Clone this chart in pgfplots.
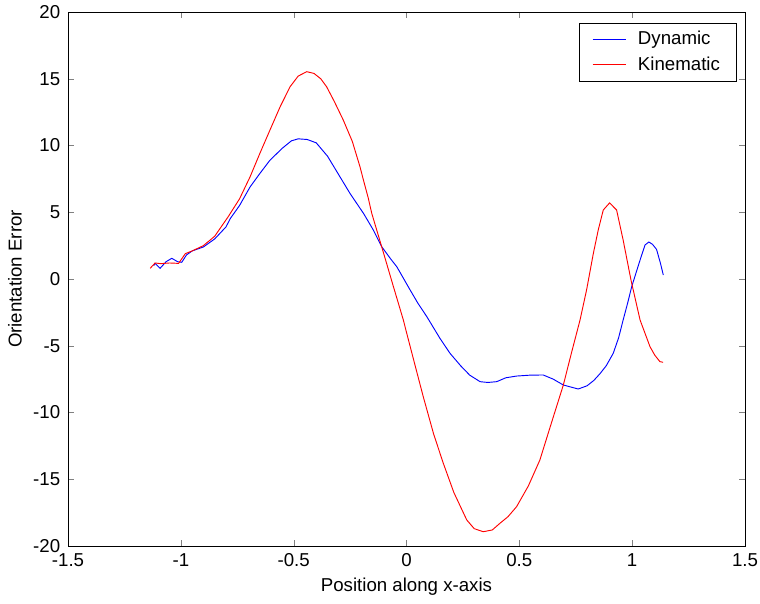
\documentclass[border=0pt]{standalone}
\usepackage{pgfplots}
\pgfplotsset{compat=1.18}
\usepackage{fontspec}
\setmainfont{Liberation Sans}
\begin{document}
\fontsize{14bp}{16bp}\selectfont
\begin{tikzpicture}
\begin{axis}[
  at={(0,0)}, anchor=south west,
  scale only axis,
  width=507.75bp, height=400.5bp,
  xmin=-1.5, xmax=1.5, ymin=-20, ymax=20,
  xtick={-1.5,-1,...,1.5},
  ytick={-20,-15,...,20},
  tick align=inside,
  tick pos=both,
  major tick length=4.5bp,
  /pgf/number format/assume math mode=true,
  ticklabel style={font=\fontsize{14bp}{16bp}\selectfont},
  label style={font=\fontsize{14bp}{16bp}\selectfont},
  xticklabel style={yshift=-1bp},
  yticklabel style={xshift=-1bp},
  xlabel={Position along x-axis},
  ylabel={Orientation Error},
  xlabel style={yshift=1bp},
  ylabel style={yshift=-1bp},
  axis line style={black},
  legend style={at={(0.987,0.98)}, anchor=north east, draw=black, font=\fontsize{14bp}{16bp}\selectfont, row sep=3bp, inner xsep=10bp, inner ysep=4bp,
    /tikz/every odd column/.append style={column sep=7bp}},
  legend cell align=left,
  legend image post style={xscale=1.45},
]
\addplot[blue, line width=0.7pt] coordinates {
(-1.12,1.0) (-1.114,1.17) (-1.092,0.8) (-1.065,1.3) (-1.04,1.55) (-1.015,1.3) (-0.996,1.25) (-0.975,1.8) (-0.95,2.1) (-0.90,2.4) (-0.85,3.0) (-0.80,3.9) (-0.78,4.55) (-0.74,5.5) (-0.693,6.9) (-0.65,7.9) (-0.605,8.9) (-0.55,9.8) (-0.51,10.35) (-0.48,10.5) (-0.44,10.45) (-0.40,10.2) (-0.35,9.2) (-0.295,7.66) (-0.25,6.4) (-0.19,4.9) (-0.147,3.67) (-0.11,2.42) (-0.07,1.5) (-0.043,0.92) (0.016,-0.82) (0.05,-1.8) (0.09,-2.82) (0.148,-4.44) (0.193,-5.57) (0.24,-6.5) (0.28,-7.2) (0.326,-7.69) (0.36,-7.75) (0.40,-7.69) (0.44,-7.4) (0.488,-7.27) (0.55,-7.2) (0.606,-7.19) (0.65,-7.5) (0.695,-7.94) (0.73,-8.1) (0.761,-8.24) (0.80,-8.0) (0.83,-7.6) (0.857,-7.1) (0.885,-6.5) (0.916,-5.57) (0.94,-4.4) (0.96,-3.07) (0.98,-1.8) (0.998,-0.57) (1.035,1.42) (1.057,2.55) (1.074,2.77) (1.09,2.6) (1.108,2.22) (1.125,1.2) (1.138,0.3)
};
\addlegendentry{Dynamic}
\addplot[red, line width=0.7pt] coordinates {
(-1.136,0.8) (-1.114,1.2) (-1.09,1.15) (-1.05,1.2) (-1.01,1.17) (-0.98,1.9) (-0.95,2.1) (-0.90,2.5) (-0.85,3.2) (-0.79,4.67) (-0.74,6.0) (-0.693,7.66) (-0.65,9.4) (-0.605,11.16) (-0.56,12.9) (-0.516,14.4) (-0.48,15.2) (-0.442,15.53) (-0.41,15.4) (-0.38,15.0) (-0.354,14.4) (-0.32,13.3) (-0.28,11.9) (-0.24,10.3) (-0.206,8.4) (-0.191,7.42) (-0.17,6.1) (-0.154,4.92) (-0.11,2.42) (-0.058,-0.57) (-0.014,-3.07) (0.0,-4.0) (0.04,-6.6) (0.074,-8.8) (0.12,-11.6) (0.163,-13.8) (0.21,-16.0) (0.267,-18.05) (0.30,-18.7) (0.34,-18.93) (0.38,-18.8) (0.414,-18.3) (0.45,-17.8) (0.488,-17.05) (0.54,-15.5) (0.591,-13.56) (0.64,-10.9) (0.695,-7.94) (0.73,-5.6) (0.769,-3.07) (0.798,-0.82) (0.828,1.92) (0.85,3.7) (0.872,5.17) (0.90,5.7) (0.931,5.17) (0.96,2.92) (0.995,-0.1) (1.035,-3.07) (1.079,-5.07) (1.10,-5.7) (1.123,-6.19) (1.137,-6.24)
};
\addlegendentry{Kinematic}
\end{axis}
\pgfresetboundingbox
\path (-51bp,-43.5bp) rectangle (519bp,409.5bp);
\end{tikzpicture}
\end{document}
